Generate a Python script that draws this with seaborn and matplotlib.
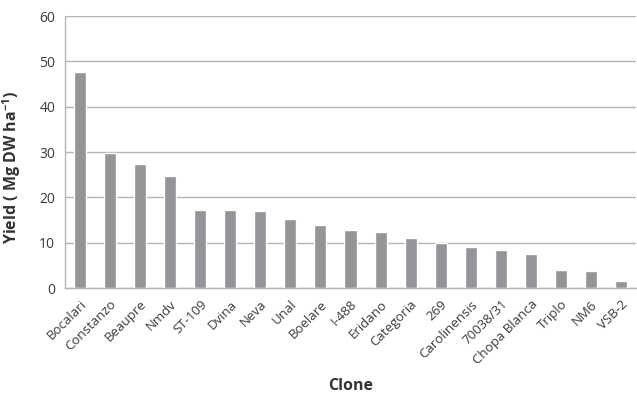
import matplotlib
matplotlib.use("Agg")
import matplotlib.pyplot as plt
import seaborn as sns
import pandas as pd

clones = ["Bocalari", "Constanzo", "Beaupre", "Nmdv", "ST-109", "Dvina", "Neva",
          "Unal", "Boelare", "I-488", "Eridano", "Categoria", "269", "Carolinensis",
          "70038/31", "Chopa Blanca", "Triplo", "NM6", "VSB-2"]
yields = [47.7, 29.8, 27.4, 24.8, 17.3, 17.1, 16.9, 15.2, 13.9, 12.7, 12.3,
          11.0, 10.0, 9.0, 8.3, 7.6, 4.0, 3.7, 1.5]
yticks = [0, 10, 20, 30, 40, 50, 60]

df = pd.DataFrame({"Clone": clones, "Yield": yields})

sns.set_style("white")
plt.rcParams["font.family"] = ["Open Sans", "DejaVu Sans"]
plt.rcParams["mathtext.default"] = "regular"

W, H = 637, 399
fig = plt.figure(figsize=(W / 100, H / 100), dpi=100)
ax = fig.add_axes([65 / W, 1 - 288 / H, 571 / W, 272 / H])

sns.barplot(data=df, x="Clone", y="Yield", color="#939598", saturation=1,
            width=0.4, ax=ax, zorder=3)

ax.set_ylim(0, 60)
ax.set_yticks(yticks)
ax.set_xlim(-0.5, len(clones) - 0.5)
ax.yaxis.grid(True, color="#b3b3b3", linewidth=1.0, zorder=0)
ax.set_axisbelow(True)

for side in ["top", "right"]:
    ax.spines[side].set_visible(False)
for side in ["left", "bottom"]:
    ax.spines[side].set_color("#b3b3b3")
    ax.spines[side].set_linewidth(1.0)

ax.tick_params(axis="y", length=4, color="#b3b3b3", labelsize=10,
               labelcolor="#3a3a3a", pad=3)
ax.tick_params(axis="x", length=0, labelsize=9.5, labelcolor="#3a3a3a", pad=7)
plt.setp(ax.get_xticklabels(), rotation=45, ha="right", rotation_mode="anchor")

ax.set_ylabel("Yield ( Mg DW ha$^{-1}$)", fontsize=11.5, fontweight="bold",
              color="#333333")
ax.yaxis.set_label_coords(-42 / 571, (288 - 167) / 272)

ax.set_xlabel("")
fig.text((65 + 571 / 2) / W, 1 - 386 / H, "Clone", fontsize=11.5,
         fontweight="bold", color="#333333", ha="center", va="center")

fig.savefig("out.png", dpi=100)
